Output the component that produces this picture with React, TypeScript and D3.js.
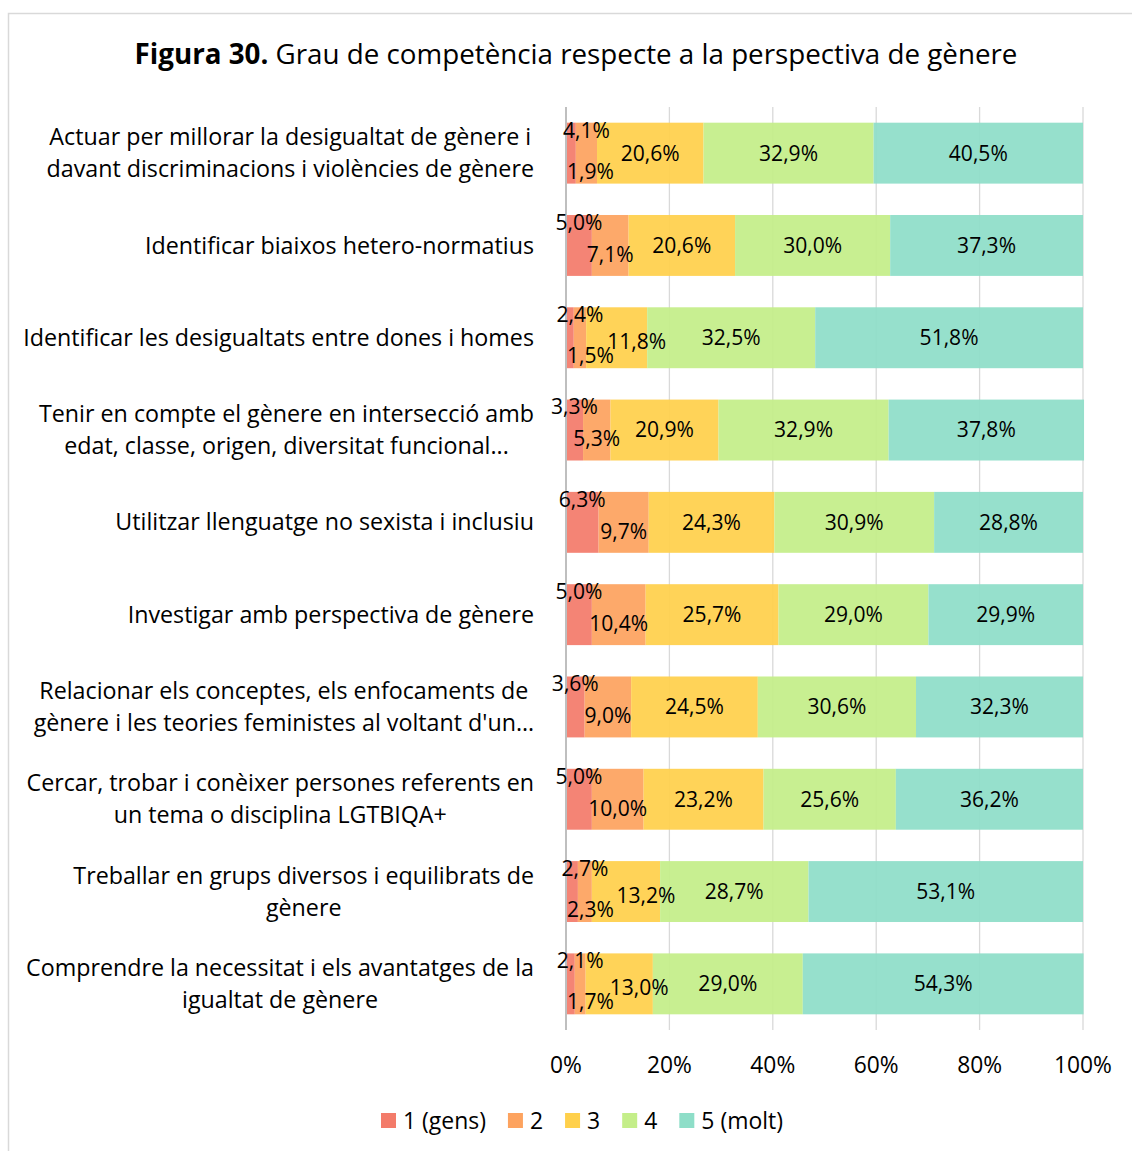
import React, { useEffect, useRef } from "react";
import * as d3 from "d3";

const categories: string[][] = [
  ["Actuar per millorar la desigualtat de gènere i", "davant discriminacions i violències de gènere"],
  ["Identificar biaixos hetero-normatius"],
  ["Identificar les desigualtats entre dones i homes"],
  ["Tenir en compte el gènere en intersecció amb", "edat, classe, origen, diversitat funcional..."],
  ["Utilitzar llenguatge no sexista i inclusiu"],
  ["Investigar amb perspectiva de gènere"],
  ["Relacionar els conceptes, els enfocaments de", "gènere i les teories feministes al voltant d'un…"],
  ["Cercar, trobar i conèixer persones referents en", "un tema o disciplina LGTBIQA+"],
  ["Treballar en grups diversos i equilibrats de", "gènere"],
  ["Comprendre la necessitat i els avantatges de la", "igualtat de gènere"],
];

const seriesNames = ["1 (gens)", "2", "3", "4", "5 (molt)"];
const s1 = [1.9, 5.0, 1.5, 3.3, 6.3, 5.0, 3.6, 5.0, 2.3, 1.7];
const s2 = [4.1, 7.1, 2.4, 5.3, 9.7, 10.4, 9.0, 10.0, 2.7, 2.1];
const s3 = [20.6, 20.6, 11.8, 20.9, 24.3, 25.7, 24.5, 23.2, 13.2, 13.0];
const s4 = [32.9, 30.0, 32.5, 32.9, 30.9, 29.0, 30.6, 25.6, 28.7, 29.0];
const s5 = [40.5, 37.3, 51.8, 37.8, 28.8, 29.9, 32.3, 36.2, 53.1, 54.3];
const xTicks = [0, 20, 40, 60, 80, 100];
const colors = ["#F37B6A", "#FDA35F", "#FFD04B", "#C4EE89", "#8EDEC8"];

const FONT = "'Open Sans', 'Noto Sans', sans-serif";

export default function App() {
  const ref = useRef<SVGSVGElement>(null);
  useEffect(() => {
    const svg = d3.select(ref.current);
    svg.selectAll("*").remove();
    const W = 1132, H = 1151;
    const x0 = 566, x1 = 1083, yTop = 107, yBot = 1030;
    const allSeries = [s1, s2, s3, s4, s5];
    const x = d3.scaleLinear().domain([0, 100]).range([x0, x1]);
    const y = d3.scaleBand<number>().domain(d3.range(categories.length)).range([yTop, yBot]).paddingInner(0.34).paddingOuter(0.17);

    // font size fitting helper: size such that sample string has target width
    const fit = (sample: string, target: number, weight = "normal") => {
      const t = svg.append("text").attr("font-family", FONT).attr("font-size", 100).attr("font-weight", weight).text(sample);
      const w = (t.node() as SVGTextElement).getComputedTextLength();
      t.remove();
      return (100 * target) / w;
    };
    const catSize = fit("Identificar biaixos hetero-normatius", 389);
    const dataSize = fit("20,6%", 59);
    const tickSize = fit("100%", 58);
    const legSize = fit("1 (gens)", 83);
    const titleSize = fit("Grau de competència respecte a la perspectiva de gènere", 742);

    svg.append("rect").attr("x", 0).attr("y", 0).attr("width", W).attr("height", H).attr("fill", "#fff");
    svg.append("rect").attr("x", 8.5).attr("y", 13.5).attr("width", 1140).attr("height", 1150)
      .attr("fill", "none").attr("stroke", "#d9d9d9").attr("stroke-width", 1.5);

    // title
    const title = svg.append("text").attr("x", 576).attr("y", 64).attr("text-anchor", "middle")
      .attr("font-family", FONT).attr("font-size", titleSize).attr("fill", "#000");
    title.append("tspan").attr("font-weight", "bold").text("Figura 30.");
    title.append("tspan").text(" Grau de competència respecte a la perspectiva de gènere");

    // gridlines
    svg.append("g").selectAll("line").data(xTicks.slice(1)).join("line")
      .attr("x1", d => x(d)).attr("x2", d => x(d)).attr("y1", yTop).attr("y2", yBot)
      .attr("stroke", "#d9d9d9").attr("stroke-width", 1.3);

    // stacked bars
    const stackData = categories.map((_, i) => {
      const o: any = { i };
      allSeries.forEach((s, k) => (o["k" + k] = s[i]));
      return o;
    });
    const stack = d3.stack<any>().keys(allSeries.map((_, k) => "k" + k));
    const layers = stack(stackData);
    layers.forEach((layer, k) => {
      svg.append("g").selectAll("rect").data(layer).join("rect")
        .attr("x", d => x(d[0])).attr("width", d => x(d[1]) - x(d[0]))
        .attr("y", d => y(d.data.i)!).attr("height", y.bandwidth())
        .attr("fill", colors[k]).attr("fill-opacity", 0.93);
    });

    // zero axis
    svg.append("line").attr("x1", x0).attr("x2", x0).attr("y1", yTop).attr("y2", yBot)
      .attr("stroke", "#bfbfbf").attr("stroke-width", 2);

    // data labels
    const fmt = (v: number) => v.toFixed(1).replace(".", ",") + "%";
    const lbl = svg.append("g").attr("font-family", FONT).attr("font-size", dataSize).attr("fill", "#000");
    categories.forEach((_, i) => {
      const cy = y(i)! + y.bandwidth() / 2;
      const swapped = s2[i] < 5;
      const redMid = x(s1[i] / 2);
      const orMid = x(s1[i] + s2[i] / 2);
      if (!swapped) {
        lbl.append("text").attr("x", redMid).attr("y", cy - 23).attr("dy", "0.35em").attr("text-anchor", "middle").text(fmt(s1[i]));
        lbl.append("text").attr("x", orMid).attr("y", cy + 9).attr("dy", "0.35em").attr("text-anchor", "middle").text(fmt(s2[i]));
      } else {
        lbl.append("text").attr("x", orMid).attr("y", cy - 23).attr("dy", "0.35em").attr("text-anchor", "middle").text(fmt(s2[i]));
        lbl.append("text").attr("x", x0 + 1).attr("y", cy + 18).attr("dy", "0.35em").attr("text-anchor", "start").text(fmt(s1[i]));
      }
      [2, 3, 4].forEach(k => {
        const start = allSeries.slice(0, k).reduce((a, s) => a + s[i], 0);
        let mx = x(start + allSeries[k][i] / 2);
        let yy = cy;
        if (k === 2 && swapped && s3[i] < 15) { mx += 20; yy += 4; }
        lbl.append("text").attr("x", mx).attr("y", yy).attr("dy", "0.35em").attr("text-anchor", "middle").text(fmt(allSeries[k][i]));
      });
    });

    // category labels
    const cat = svg.append("g").attr("font-family", FONT).attr("font-size", catSize).attr("fill", "#000");
    categories.forEach((lines, i) => {
      const cy = y(i)! + y.bandwidth() / 2;
      const g = cat.append("g");
      const texts = lines.map((l, j) =>
        g.append("text").attr("y", cy + (j - (lines.length - 1) / 2) * 32).attr("dy", "0.35em")
          .attr("text-anchor", "middle").text(l));
      const maxW = d3.max(texts, t => (t.node() as SVGTextElement).getComputedTextLength()) || 0;
      texts.forEach(t => t.attr("x", 534 - maxW / 2));
    });

    // x tick labels
    svg.append("g").attr("font-family", FONT).attr("font-size", tickSize).attr("fill", "#000")
      .selectAll("text").data(xTicks).join("text")
      .attr("x", d => x(d)).attr("y", 1065).attr("dy", "0.35em").attr("text-anchor", "middle")
      .text(d => d + "%");

    // legend
    const leg = svg.append("g").attr("font-family", FONT).attr("font-size", legSize);
    let lx = 381;
    seriesNames.forEach((n, k) => {
      leg.append("rect").attr("x", lx).attr("y", 1113).attr("width", 15).attr("height", 15).attr("fill", colors[k]);
      const t = leg.append("text").attr("x", lx + 22).attr("y", 1121).attr("dy", "0.35em").text(n);
      const w = (t.node() as SVGTextElement).getComputedTextLength();
      lx += 22 + w + 22;
    });
  }, []);
  return <svg ref={ref} width={1132} height={1151} style={{ display: "block", position: "absolute", left: 0, top: 0 }} />;
}
